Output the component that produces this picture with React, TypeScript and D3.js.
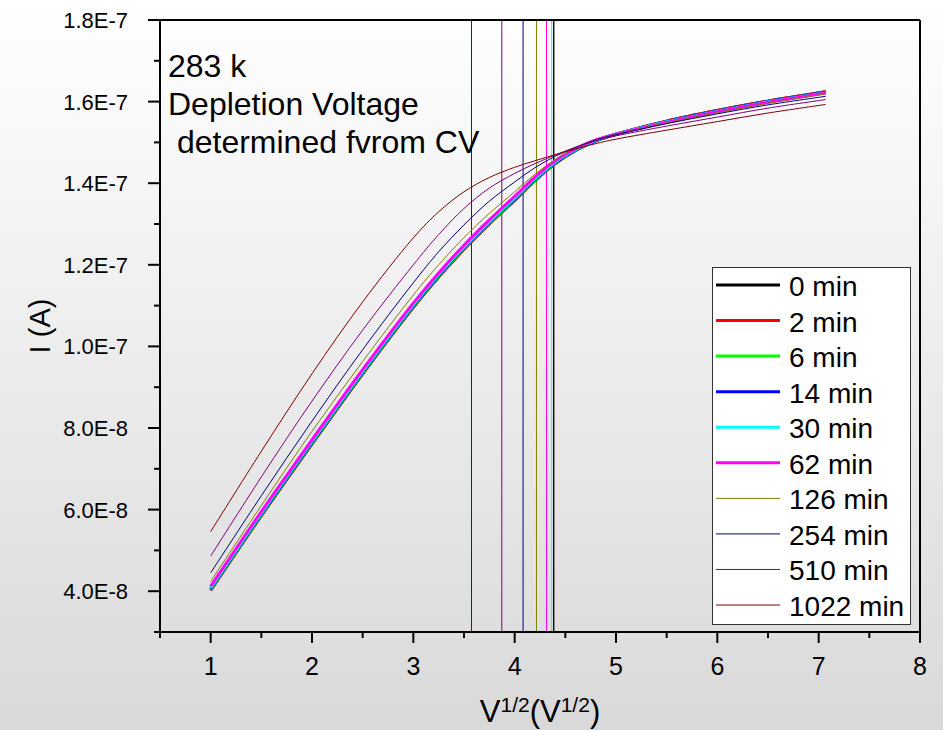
import React from "react";
import * as d3 from "d3";

// sqrt(V) sample positions shared by every sweep
const sqrtV = [1, 1.5, 2, 2.5, 3, 3.25, 3.5, 3.75, 4, 4.2, 4.4, 4.6, 4.8, 5, 5.5, 6, 6.5, 7.07];

// Leakage current in nA for each annealing time
const i0 = [40.2, 58.5, 76.1, 93.3, 109.6, 117.0, 123.8, 130.0, 135.8, 140.6, 144.8, 148.0, 150.4, 152.0, 155.2, 157.8, 160.1, 162.4];
const i2 = [40.3, 58.6, 76.2, 93.4, 109.7, 117.1, 123.9, 130.1, 135.9, 140.6, 144.8, 148.0, 150.4, 152.0, 155.2, 157.8, 160.1, 162.4];
const i6 = [40.4, 58.7, 76.3, 93.5, 109.8, 117.2, 124.0, 130.2, 136.0, 140.7, 144.9, 148.0, 150.4, 152.0, 155.1, 157.7, 160.0, 162.3];
const i14 = [40.6, 58.9, 76.5, 93.7, 110.0, 117.4, 124.2, 130.4, 136.2, 140.9, 145.0, 148.1, 150.4, 152.0, 155.1, 157.7, 160.0, 162.3];
const i30 = [40.8, 59.1, 76.7, 93.9, 110.2, 117.6, 124.4, 130.6, 136.4, 141.1, 145.2, 148.2, 150.5, 152.0, 155.0, 157.6, 159.9, 162.2];
const i62 = [41.2, 59.5, 77.1, 94.3, 110.6, 118.0, 124.8, 131.0, 136.8, 141.5, 145.5, 148.4, 150.6, 152.0, 154.9, 157.5, 159.8, 162.1];
const i126 = [42.4, 61.0, 79.2, 96.3, 112.6, 120.0, 126.7, 132.6, 137.9, 142.2, 145.8, 148.6, 150.6, 152.0, 154.8, 157.3, 159.6, 161.9];
const i254 = [44.5, 63.4, 81.7, 99.2, 115.6, 123.2, 129.8, 135.6, 140.3, 143.8, 146.6, 148.8, 150.6, 151.9, 154.6, 157.0, 159.2, 161.3];
const i510 = [48.6, 68.0, 86.6, 104.0, 120.0, 127.4, 133.8, 138.8, 142.4, 144.8, 146.9, 148.8, 150.4, 151.6, 154.0, 156.2, 158.4, 160.5];
const i1022 = [54.6, 74.3, 93.3, 110.9, 126.6, 133.0, 137.9, 141.4, 143.9, 145.5, 147.0, 148.4, 149.7, 150.8, 153.0, 155.1, 157.2, 159.3];

const seriesNames = ["0 min", "2 min", "6 min", "14 min", "30 min", "62 min", "126 min", "254 min", "510 min", "1022 min"];
const seriesColors = ["#000000", "#ff0000", "#00ff00", "#0000ff", "#00ffff", "#ff00ff", "#808000", "#000080", "#800080", "#800000"];
const seriesWidths = [3, 3, 3, 3, 3, 3, 1, 1, 1, 1];
const seriesCurrents = [i0, i2, i6, i14, i30, i62, i126, i254, i510, i1022];

// Depletion voltage (as sqrt V) from CV for each annealing step
const depletionSqrtV = [4.385, 4.385, 4.385, 4.385, 4.365, 4.314, 4.215, 4.083, 3.873, 3.574];

const xTickValues = [1, 2, 3, 4, 5, 6, 7, 8];
const xMinorValues = [0.5, 1.5, 2.5, 3.5, 4.5, 5.5, 6.5, 7.5];
const yTickValues = [40, 60, 80, 100, 120, 140, 160, 180];
const yTickLabels = ["4.0E-8", "6.0E-8", "8.0E-8", "1.0E-7", "1.2E-7", "1.4E-7", "1.6E-7", "1.8E-7"];
const yMinorValues = [30, 50, 70, 90, 110, 130, 150, 170];

const annotationLines = ["283 k", "Depletion Voltage", " determined fvrom CV"];

const W = 943;
const H = 730;
const left = 160;
const right = 920;
const top = 20;
const bottom = 632;
const FONT = "'Liberation Sans', Arial, sans-serif";

export default function App() {
  const x = d3.scaleLinear().domain([0.5, 8]).range([left, right]);
  const y = d3.scaleLinear().domain([30, 180]).range([bottom, top]);

  const line = d3
    .line<number>()
    .x((_, i) => x(sqrtV[i]))
    .y((d) => y(d))
    .curve(d3.curveCatmullRom.alpha(0.5));

  const legendX = 712.5;
  const legendY = 267.5;
  const legendW = 198;
  const legendH = 357;
  const rowStep = 35.56;
  const firstRow = 285;

  const drawOrder = d3.range(seriesNames.length);
  const vOrder = d3.range(seriesNames.length).reverse();

  return (
    <div style={{ position: "absolute", left: 0, top: 0 }}>
      <svg width={W} height={H} style={{ display: "block" }} fontFamily={FONT}>
        <defs>
          <linearGradient id="bg" x1="0" y1="0" x2="0" y2="1">
            <stop offset="0" stopColor="#ffffff" />
            <stop offset="1" stopColor="#d9d9d9" />
          </linearGradient>
        </defs>
        <rect x={0} y={0} width={W} height={H} fill="url(#bg)" />

        {/* depletion voltage markers */}
        {vOrder.map((i) => (
          <line
            key={"v" + i}
            x1={x(depletionSqrtV[i])}
            x2={x(depletionSqrtV[i])}
            y1={top}
            y2={bottom}
            stroke={seriesColors[i]}
            strokeWidth={1}
          />
        ))}

        {/* I-V curves */}
        {drawOrder.map((i) => (
          <path
            key={"c" + i}
            d={line(seriesCurrents[i]) || ""}
            fill="none"
            stroke={seriesColors[i]}
            strokeWidth={seriesWidths[i]}
          />
        ))}

        {/* frame */}
        <line x1={left} x2={right} y1={top} y2={top} stroke="#000" strokeWidth={2} />
        <line x1={right} x2={right} y1={top} y2={bottom + 1} stroke="#000" strokeWidth={2} />
        <line x1={left} x2={left} y1={top - 1} y2={bottom + 1} stroke="#000" strokeWidth={2} />
        <line x1={left - 1} x2={right + 1} y1={bottom} y2={bottom} stroke="#000" strokeWidth={2} />

        {/* x axis ticks */}
        {xTickValues.map((v) => (
          <g key={"xt" + v}>
            <line x1={x(v)} x2={x(v)} y1={bottom} y2={bottom + 11} stroke="#000" strokeWidth={2} />
            <text x={x(v)} y={675} fontSize={25} textAnchor="middle" fill="#000">
              {v}
            </text>
          </g>
        ))}
        {xMinorValues.map((v) => (
          <line key={"xm" + v} x1={x(v)} x2={x(v)} y1={bottom} y2={bottom + 6} stroke="#000" strokeWidth={2} />
        ))}

        {/* y axis ticks */}
        {yTickValues.map((v, i) => (
          <g key={"yt" + v}>
            <line x1={left - 12} x2={left} y1={y(v)} y2={y(v)} stroke="#000" strokeWidth={2} />
            <text x={128} y={y(v) + 8} fontSize={22} textAnchor="end" fill="#000">
              {yTickLabels[i]}
            </text>
          </g>
        ))}
        {yMinorValues.map((v) => (
          <line key={"ym" + v} x1={left - 6} x2={left} y1={y(v)} y2={y(v)} stroke="#000" strokeWidth={2} />
        ))}

        {/* axis titles */}
        <text x={540} y={722} fontSize={31} textAnchor="middle" fill="#000">
          V
          <tspan fontSize={21} dy={-10}>1/2</tspan>
          <tspan dy={10}>(V</tspan>
          <tspan fontSize={21} dy={-10}>1/2</tspan>
          <tspan dy={10}>)</tspan>
        </text>
        <text
          transform={`translate(50, ${(top + bottom) / 2}) rotate(-90)`}
          fontSize={29}
          textAnchor="middle"
          fill="#000"
        >
          I (A)
        </text>

        {/* annotation */}
        {annotationLines.map((t, i) => (
          <text key={"a" + i} x={168} y={77 + i * 38} fontSize={32} fill="#000" style={{ whiteSpace: "pre" }}>
            {t}
          </text>
        ))}

        {/* legend */}
        <rect x={legendX} y={legendY} width={legendW} height={legendH} fill="#fff" stroke="#333" strokeWidth={1} />
        {seriesNames.map((name, i) => {
          const ry = firstRow + i * rowStep;
          return (
            <g key={"lg" + i}>
              <line x1={716} x2={780} y1={ry} y2={ry} stroke={seriesColors[i]} strokeWidth={seriesWidths[i]} />
              <text x={789} y={ry + 11} fontSize={28} fill="#000">
                {name}
              </text>
            </g>
          );
        })}
      </svg>
    </div>
  );
}
